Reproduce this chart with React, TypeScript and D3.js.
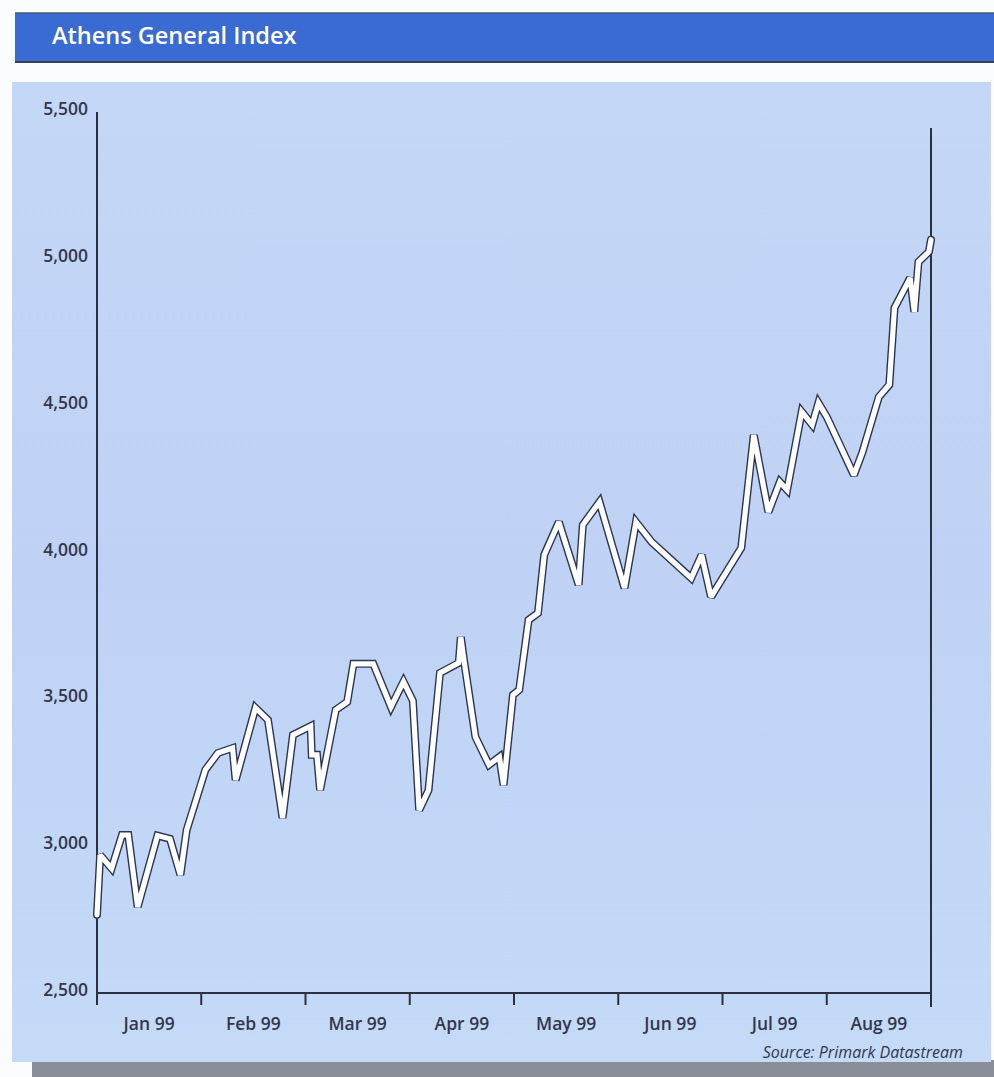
import React, { useEffect, useRef } from "react";
import * as d3 from "d3";

// Month position (0 = start of Jan 99, 8 = end of Aug 99) and index level
const monthPos = [
  0.0, 0.03, 0.14, 0.24, 0.3, 0.39, 0.58, 0.7, 0.8, 0.86,
  1.04, 1.16, 1.3, 1.33, 1.52, 1.64, 1.78, 1.88, 2.05, 2.06, 2.11, 2.14,
  2.29, 2.4, 2.46, 2.65, 2.82, 2.94, 3.03, 3.09, 3.18, 3.29, 3.47, 3.49, 3.52,
  3.63, 3.76, 3.86, 3.9, 3.99, 4.05, 4.14, 4.23, 4.29, 4.43, 4.62, 4.66, 4.82,
  5.06, 5.17, 5.32, 5.7, 5.8, 5.89, 6.18, 6.3, 6.44, 6.55, 6.62, 6.76, 6.86,
  6.92, 7.0, 7.26, 7.34, 7.5, 7.6, 7.65, 7.8, 7.84, 7.88, 7.98, 8.0,
];
const indexValues = [
  2766, 2970, 2924, 3038, 3038, 2793, 3036, 3025, 2902, 3055,
  3260, 3317, 3334, 3225, 3471, 3430, 3096, 3379, 3409, 3311, 3311, 3191,
  3464, 3491, 3621, 3621, 3474, 3560, 3495, 3123, 3191, 3590, 3624, 3712, 3634,
  3372, 3277, 3304, 3208, 3515, 3532, 3770, 3794, 3992, 4104, 3890, 4094, 4172,
  3879, 4104, 4036, 3913, 3992, 3849, 4016, 4400, 4138, 4240, 4213, 4479, 4435,
  4509, 4462, 4264, 4339, 4530, 4571, 4833, 4935, 4820, 4990, 5024, 5065,
];
const monthLabels = ["Jan 99", "Feb 99", "Mar 99", "Apr 99", "May 99", "Jun 99", "Jul 99", "Aug 99"];
const yTicks = [2500, 3000, 3500, 4000, 4500, 5000, 5500];

const title = "Athens General Index";
const source = "Source: Primark Datastream";

export default function App() {
  const ref = useRef<SVGSVGElement | null>(null);

  useEffect(() => {
    const svg = d3.select(ref.current);
    svg.selectAll("*").remove();
    const W = 994, H = 1077;
    const font = "'Open Sans', 'Noto Sans', sans-serif";

    svg.append("rect").attr("width", W).attr("height", H).attr("fill", "#fbfcfd");

    // Title bar
    svg.append("rect").attr("x", 15).attr("y", 13).attr("width", 979).attr("height", 49)
      .attr("fill", "#3a6bd2");
    svg.append("line").attr("x1", 15).attr("x2", 994).attr("y1", 13).attr("y2", 13)
      .attr("stroke", "#4a5a7a").attr("stroke-width", 1.5);
    svg.append("line").attr("x1", 15).attr("x2", 994).attr("y1", 62).attr("y2", 62)
      .attr("stroke", "#3a4058").attr("stroke-width", 2);
    svg.append("text").attr("x", 52).attr("y", 44).text(title)
      .attr("fill", "#ffffff").attr("font-family", font).attr("font-weight", 600)
      .attr("font-size", 23.5);

    // Panel shadow and panel
    svg.append("rect").attr("x", 32).attr("y", 1060).attr("width", 962).attr("height", 17)
      .attr("fill", "#8a8e98");
    const grad = svg.append("defs").append("linearGradient").attr("id", "pg")
      .attr("x1", 0).attr("x2", 0).attr("y1", 0).attr("y2", 1);
    grad.append("stop").attr("offset", "0").attr("stop-color", "#c4d7f6");
    grad.append("stop").attr("offset", "0.5").attr("stop-color", "#bfd2f5");
    grad.append("stop").attr("offset", "1").attr("stop-color", "#c4daf7");
    svg.append("rect").attr("x", 12).attr("y", 82).attr("width", 979).attr("height", 980)
      .attr("fill", "url(#pg)");

    const x = d3.scaleLinear().domain([0, 8]).range([97, 931]);
    const y = d3.scaleLinear().domain([2500, 5500]).range([993, 112]);
    const axisColor = "#2b3040";

    // Y axis line
    svg.append("line").attr("x1", x(0)).attr("x2", x(0)).attr("y1", y(5500)).attr("y2", y(2500))
      .attr("stroke", axisColor).attr("stroke-width", 2);
    // Right line
    svg.append("line").attr("x1", x(8)).attr("x2", x(8)).attr("y1", 128).attr("y2", y(2500) + 14)
      .attr("stroke", axisColor).attr("stroke-width", 2);
    // X axis line
    svg.append("line").attr("x1", x(0)).attr("x2", x(8)).attr("y1", y(2500)).attr("y2", y(2500))
      .attr("stroke", axisColor).attr("stroke-width", 2);
    // X ticks
    d3.range(0, 9).forEach((m) => {
      svg.append("line").attr("x1", x(m)).attr("x2", x(m)).attr("y1", y(2500)).attr("y2", y(2500) + 12)
        .attr("stroke", axisColor).attr("stroke-width", 2);
    });
    monthLabels.forEach((lab, i) => {
      svg.append("text").attr("x", x(i + 0.5)).attr("y", y(2500) + 37).text(lab)
        .attr("text-anchor", "middle").attr("fill", "#33374a").attr("font-family", font)
        .attr("font-weight", 600).attr("font-size", 17.5);
    });
    yTicks.forEach((v) => {
      svg.append("text").attr("x", 88).attr("y", y(v) + 3).text(d3.format(",")(v))
        .attr("text-anchor", "end").attr("fill", "#33374a").attr("font-family", font)
        .attr("font-weight", 600).attr("font-size", 17.5);
    });

    // Line
    const pts = monthPos.map((m, i) => [m, indexValues[i]] as [number, number]);
    const line = d3.line<[number, number]>().x((d) => x(d[0])).y((d) => y(d[1]));
    svg.append("path").attr("d", line(pts)!).attr("fill", "none")
      .attr("stroke", "#2c3552").attr("stroke-width", 8).attr("stroke-linejoin", "miter")
      .attr("stroke-miterlimit", 2.5).attr("stroke-linecap", "round");
    svg.append("path").attr("d", line(pts)!).attr("fill", "none")
      .attr("stroke", "#ffffff").attr("stroke-width", 5.2).attr("stroke-linejoin", "miter")
      .attr("stroke-miterlimit", 2.5).attr("stroke-linecap", "round");

    svg.append("text").attr("x", 963).attr("y", 1058).text(source)
      .attr("text-anchor", "end").attr("fill", "#33374a").attr("font-family", font)
      .attr("font-style", "italic").attr("font-size", 16);
  }, []);

  return (
    <svg ref={ref} width={994} height={1077}
      style={{ position: "absolute", left: 0, top: 0, display: "block" }} />
  );
}
